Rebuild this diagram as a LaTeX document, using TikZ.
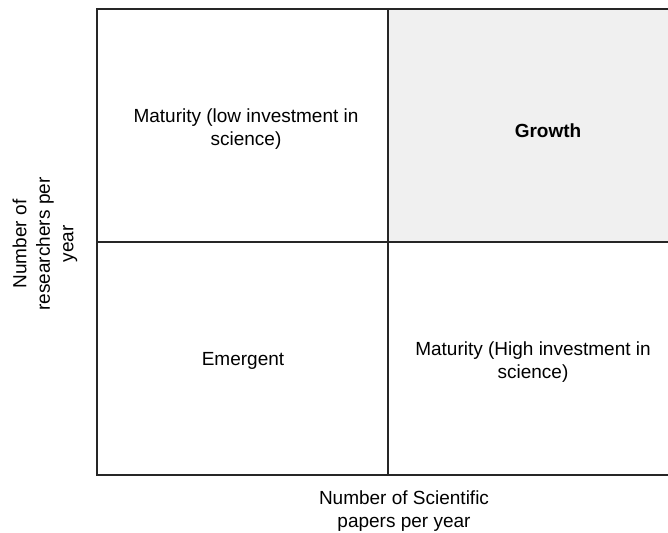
\documentclass[tikz,border=0pt]{standalone}
\usepackage{fontspec}
\setmainfont{Liberation Sans}
\tikzset{
  quadline/.style={line width=1.6pt, draw=black!85},
  celltext/.style={align=center, font=\fontsize{19}{22.5}\selectfont},
  axistext/.style={align=center, font=\fontsize{19}{23.5}\selectfont}
}
\begin{document}
\begin{tikzpicture}[x=1pt, y=-1pt]
  \useasboundingbox (0,0) rectangle (668,532);
  \clip (0,0) rectangle (668,532);
  % shaded quadrant
  \fill[black!6] (388,9) rectangle (682,242);
  % frame and dividers
  \draw[quadline] (97,9) rectangle (682,475);
  \draw[quadline] (388,9) -- (388,475);
  \draw[quadline] (97,242) -- (682,242);
  % quadrant labels
  \node[celltext] (lowmat) at (246,129) {Maturity (low investment in\\science)};
  \node[celltext, font=\fontsize{19}{22.5}\selectfont\bfseries] (growth) at (548,131) {Growth};
  \node[celltext] (emergent) at (243,361) {Emergent};
  \node[celltext] (highmat) at (533,362) {Maturity (High investment in\\science)};
  % axis labels
  \node[axistext] (xlabel) at (404,511) {Number of Scientific\\papers per year};
  \node[axistext, rotate=90] (ylabel) at (45,244) {Number of\\researchers per\\year};
\end{tikzpicture}
\end{document}
